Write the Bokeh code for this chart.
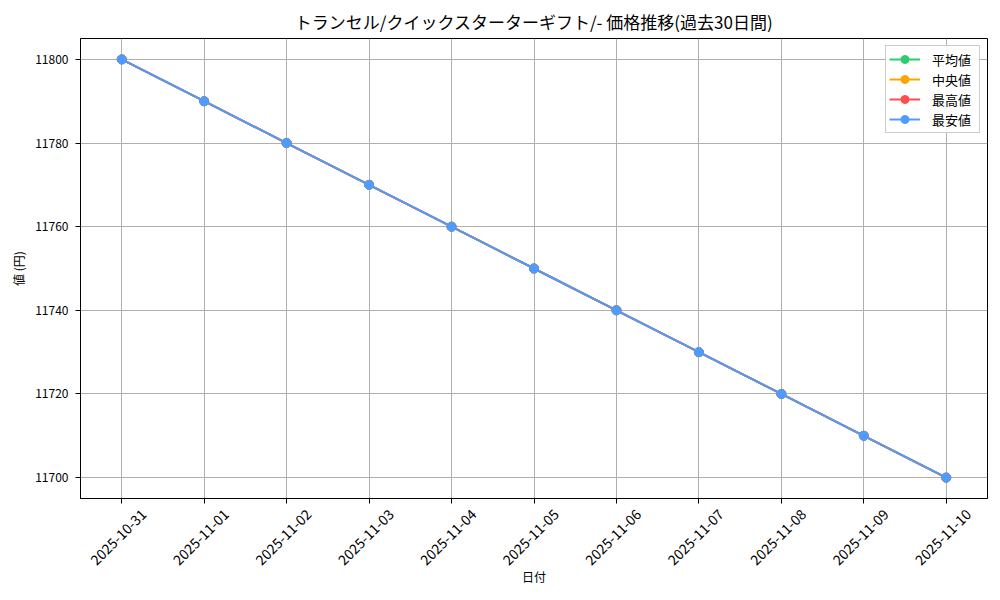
import numpy as np
import pandas as pd
from math import pi
from bokeh.plotting import figure
from bokeh.models import (FixedTicker, DatetimeTickFormatter, Range1d, Legend, LegendItem,
                          DatetimeAxis)
from bokeh.embed import file_html
from bokeh.resources import INLINE

dates = ["2025-10-31", "2025-11-01", "2025-11-02", "2025-11-03", "2025-11-04", "2025-11-05",
         "2025-11-06", "2025-11-07", "2025-11-08", "2025-11-09", "2025-11-10"]
avg_vals = [11800, 11790, 11780, 11770, 11760, 11750, 11740, 11730, 11720, 11710, 11700]
median_vals = [11800, 11790, 11780, 11770, 11760, 11750, 11740, 11730, 11720, 11710, 11700]
max_vals = [11800, 11790, 11780, 11770, 11760, 11750, 11740, 11730, 11720, 11710, 11700]
min_vals = [11800, 11790, 11780, 11770, 11760, 11750, 11740, 11730, 11720, 11710, 11700]
series_names = ["平均値", "中央値", "最高値", "最安値"]
series_colors = ["#2ecc71", "#ffa500", "#ff4d4d", "#4d9cff"]
y_ticks = [11700, 11720, 11740, 11760, 11780, 11800]

FONT = "Noto Sans CJK JP"
x = pd.to_datetime(dates)
x_ms = [float(d.value / 1e6) for d in x]
x0 = x_ms[0]
x1 = x_ms[-1]
span = x1 - x0
xs, xe = x0 - 0.05 * span, x1 + 0.05 * span
ymin, ymax = 11695, 11805

W, H = 1000, 600
BL, BR, BT, BB = 80, 13, 38, 102

p = figure(width=W, height=H, output_backend="svg", toolbar_location=None,
           x_axis_type="datetime",
           x_range=Range1d(xs, xe),
           y_range=Range1d(ymin, ymax),
           min_border_left=BL, min_border_right=BR, min_border_top=BT, min_border_bottom=BB,
           title="トランセル/クイックスターターギフト/- 価格推移(過去30日間)")

p.title.align = "center"
p.title.text_font = FONT
p.title.text_font_size = "17px"
p.title.text_font_style = "normal"
p.title.text_color = "black"

p.outline_line_color = "black"
p.outline_line_width = 1

items = []
for name, vals, col in zip(series_names, [avg_vals, median_vals, max_vals, min_vals], series_colors):
    l = p.line(x_ms, vals, line_color=col, line_width=2)
    c = p.scatter(x_ms, vals, size=9, fill_color=col, line_color=col)
    items.append(LegendItem(label=name, renderers=[l, c]))

legend = Legend(items=items, location="top_right")
legend.label_text_font = FONT
legend.label_text_font_size = "13px"
legend.label_text_color = "black"
legend.border_line_color = "#cccccc"
legend.border_line_alpha = 1
legend.background_fill_alpha = 0.9
legend.glyph_width = 31
legend.glyph_height = 20
legend.label_height = 20
legend.label_width = 44
legend.spacing = 0
legend.padding = 3
legend.margin = 7
legend.label_standoff = 12
p.add_layout(legend)

fmt = DatetimeTickFormatter(days="%Y-%m-%d", months="%Y-%m-%d", years="%Y-%m-%d", hours="%Y-%m-%d")
p.xaxis.ticker = FixedTicker(ticks=x_ms)
p.xaxis.formatter = fmt
p.yaxis.ticker = FixedTicker(ticks=y_ticks)

for ax in (p.xaxis, p.yaxis):
    ax.axis_line_color = "black"
    ax.major_tick_line_color = "black"
    ax.major_tick_out = 5
    ax.major_tick_in = 0
    ax.minor_tick_line_color = None
    ax.major_label_text_font = FONT
    ax.major_label_text_font_size = "12px"
    ax.major_label_text_color = "black"
    ax.axis_label_text_font = FONT
    ax.axis_label_text_font_size = "12px"
    ax.axis_label_text_font_style = "normal"
    ax.axis_label_text_color = "black"

p.yaxis.major_label_standoff = 7
p.yaxis.axis_label = "値 (円)"

# main x axis: ticks only; labels come from a shifted companion axis so that
# the rotated dates are centred on their ticks (as in the reference)
p.xaxis.major_label_overrides = {t: "" for t in x_ms}
p.xaxis.major_label_standoff = 0

frame_w = W - BL - BR
shift = 22.0 / frame_w * (xe - xs)
p.extra_x_ranges = {"lab": Range1d(xs - shift, xe - shift)}
lab_axis = DatetimeAxis(x_range_name="lab", ticker=FixedTicker(ticks=x_ms), formatter=fmt,
                        axis_line_color=None, major_tick_line_color=None,
                        minor_tick_line_color=None, major_tick_out=0, major_tick_in=0,
                        major_label_orientation=pi / 4, major_label_standoff=8,
                        major_label_text_font=FONT, major_label_text_font_size="14px",
                        major_label_text_color="black",
                        axis_label="日付", axis_label_standoff=-5,
                        axis_label_text_font=FONT, axis_label_text_font_size="12px",
                        axis_label_text_font_style="normal", axis_label_text_color="black")
p.add_layout(lab_axis, "below")

p.xgrid.grid_line_color = "#b0b0b0"
p.ygrid.grid_line_color = "#b0b0b0"
p.xgrid.grid_line_width = 1
p.ygrid.grid_line_width = 1
p.xgrid.ticker = p.xaxis[0].ticker
p.ygrid.ticker = p.yaxis[0].ticker

open("out.html", "w").write(file_html(p, INLINE))
